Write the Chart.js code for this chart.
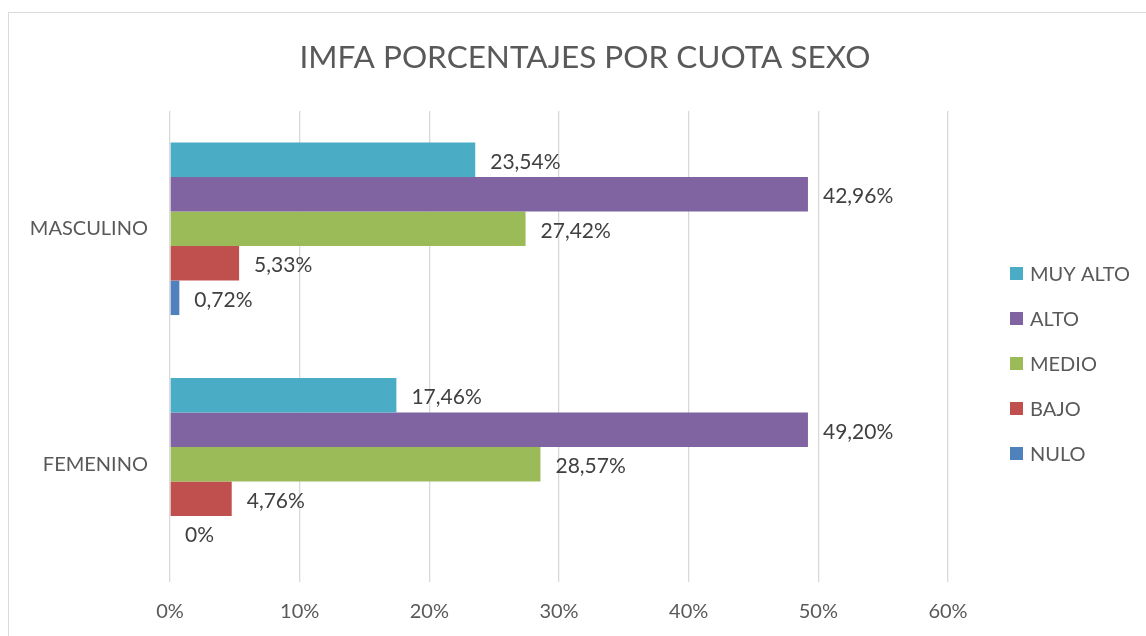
<!DOCTYPE html>
<html>
<head>
<meta charset="utf-8">
<script src="https://cdn.jsdelivr.net/npm/chart.js@4.4.0/dist/chart.umd.min.js"></script>
<style>
html,body{margin:0;padding:0;background:#fff;}
#wrap{width:1146px;height:636px;position:relative;}
</style>
</head>
<body>
<div id="wrap"><canvas id="c" width="1146" height="636"></canvas></div>
<script>
const TITLE = 'IMFA PORCENTAJES POR CUOTA SEXO';
const categories = ['MASCULINO', 'FEMENINO'];
const seriesNames = ['MUY ALTO', 'ALTO', 'MEDIO', 'BAJO', 'NULO'];
const seriesColors = ['#4BACC6', '#8064A2', '#9BBB59', '#C0504D', '#4F81BD'];
// bar lengths as drawn in the picture (percent)
const muyAlto = [23.54, 17.46];
const alto = [49.20, 49.20];
const medio = [27.42, 28.57];
const bajo = [5.33, 4.76];
const nulo = [0.72, 0];
// data label texts as printed in the picture
const muyAltoLabels = ['23,54%', '17,46%'];
const altoLabels = ['42,96%', '49,20%'];
const medioLabels = ['27,42%', '28,57%'];
const bajoLabels = ['5,33%', '4,76%'];
const nuloLabels = ['0,72%', '0%'];
const xTicks = [0, 10, 20, 30, 40, 50, 60];

const seriesValues = [muyAlto, alto, medio, bajo, nulo];
const seriesLabels = [muyAltoLabels, altoLabels, medioLabels, bajoLabels, nuloLabels];

const FONT = 'Lato, "Open Sans", sans-serif';

const decorPlugin = {
  id: 'decor',
  beforeDraw(chart) {
    const ctx = chart.ctx;
    ctx.save();
    ctx.fillStyle = '#ffffff';
    ctx.fillRect(0, 0, chart.width, chart.height);
    ctx.strokeStyle = '#d9d9d9';
    ctx.lineWidth = 1;
    ctx.strokeRect(8.5, 12.5, 1300, 800);
    ctx.restore();
  },
  afterDraw(chart) {
    const ctx = chart.ctx;
    ctx.save();
    // title
    ctx.fillStyle = '#595959';
    ctx.font = '31.5px ' + FONT;
    ctx.textAlign = 'center';
    ctx.textBaseline = 'alphabetic';
    ctx.fillText(TITLE, 585, 68);
    // legend
    ctx.font = '20px ' + FONT;
    ctx.textAlign = 'left';
    seriesNames.forEach((n, i) => {
      const base = 280.5 + 45 * i;
      ctx.fillStyle = seriesColors[i];
      ctx.fillRect(1010, base - 13.5, 13, 13);
      ctx.fillStyle = '#595959';
      ctx.fillText(n, 1030, base);
    });
    ctx.restore();
  },
  afterDatasetsDraw(chart) {
    const ctx = chart.ctx;
    ctx.save();
    ctx.font = '21px ' + FONT;
    ctx.fillStyle = '#404040';
    ctx.textAlign = 'left';
    ctx.textBaseline = 'alphabetic';
    chart.data.datasets.forEach((ds, di) => {
      const meta = chart.getDatasetMeta(di);
      meta.data.forEach((el, i) => {
        ctx.fillText(seriesLabels[di][i], el.x + 15, el.y + 9);
      });
    });
    ctx.restore();
  }
};

new Chart(document.getElementById('c'), {
  type: 'bar',
  data: {
    labels: categories,
    datasets: seriesNames.map((n, i) => ({
      label: n,
      data: seriesValues[i],
      backgroundColor: seriesColors[i],
      borderWidth: 0,
      categoryPercentage: 0.733,
      barPercentage: 1.0
    }))
  },
  options: {
    indexAxis: 'y',
    responsive: false,
    animation: false,
    devicePixelRatio: 1,
    layout: { padding: { top: 111, left: 0, right: 198, bottom: 0 } },
    plugins: { legend: { display: false }, title: { display: false }, tooltip: { enabled: false } },
    scales: {
      x: {
        min: 0, max: 60,
        afterBuildTicks(scale) { scale.ticks = xTicks.map(v => ({ value: v })); },
        afterFit(scale) { scale.height = 54; },
        border: { display: false },
        grid: { color: '#d9d9d9', lineWidth: 1.3, drawTicks: false },
        ticks: {
          padding: 18,
          color: '#595959',
          font: { family: FONT, size: 20 },
          callback: v => v + '%'
        }
      },
      y: {
        afterFit(scale) { scale.width = 170; },
        border: { display: false },
        grid: { display: false, drawTicks: false },
        ticks: {
          padding: 22,
          color: '#595959',
          font: { family: FONT, size: 20 }
        }
      }
    }
  },
  plugins: [decorPlugin]
});
</script>
</body>
</html>
